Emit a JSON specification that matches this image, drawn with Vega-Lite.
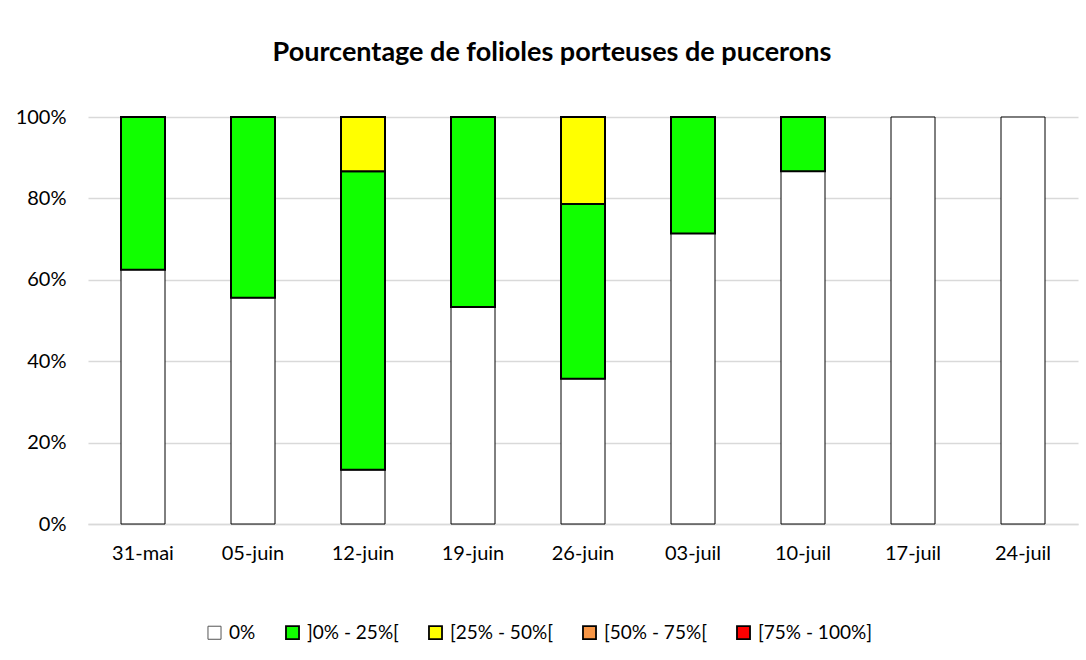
{
  "$schema": "https://vega.github.io/schema/vega-lite/v6.json",
  "autosize": {"type": "none"},
  "width": 990,
  "height": 407,
  "padding": {"left": 88, "top": 117, "right": 8, "bottom": 136},
  "background": "white",
  "title": {
    "text": "Pourcentage de folioles porteuses de pucerons",
    "fontSize": 27,
    "font": "Lato",
    "fontWeight": "bold",
    "color": "#000000",
    "anchor": "middle",
    "dx": -31,
    "offset": 19,
    "baseline": "alphabetic"
  },
  "config": {
    "view": {"stroke": null},
    "font": "Lato"
  },
  "data": {
    "values": [
      {"date": "31-mai", "cat": "0%", "k": 0, "v": 0.625},
      {"date": "31-mai", "cat": "]0% - 25%[", "k": 1, "v": 0.375},
      {"date": "05-juin", "cat": "0%", "k": 0, "v": 0.556},
      {"date": "05-juin", "cat": "]0% - 25%[", "k": 1, "v": 0.444},
      {"date": "12-juin", "cat": "0%", "k": 0, "v": 0.133},
      {"date": "12-juin", "cat": "]0% - 25%[", "k": 1, "v": 0.734},
      {"date": "12-juin", "cat": "[25% - 50%[", "k": 2, "v": 0.133},
      {"date": "19-juin", "cat": "0%", "k": 0, "v": 0.533},
      {"date": "19-juin", "cat": "]0% - 25%[", "k": 1, "v": 0.467},
      {"date": "26-juin", "cat": "0%", "k": 0, "v": 0.357},
      {"date": "26-juin", "cat": "]0% - 25%[", "k": 1, "v": 0.429},
      {"date": "26-juin", "cat": "[25% - 50%[", "k": 2, "v": 0.214},
      {"date": "03-juil", "cat": "0%", "k": 0, "v": 0.714},
      {"date": "03-juil", "cat": "]0% - 25%[", "k": 1, "v": 0.286},
      {"date": "10-juil", "cat": "0%", "k": 0, "v": 0.867},
      {"date": "10-juil", "cat": "]0% - 25%[", "k": 1, "v": 0.133},
      {"date": "17-juil", "cat": "0%", "k": 0, "v": 1.0},
      {"date": "24-juil", "cat": "0%", "k": 0, "v": 1.0}
    ]
  },
  "mark": {"type": "bar", "stroke": "#000000"},
  "encoding": {
    "x": {
      "field": "date",
      "type": "nominal",
      "sort": null,
      "title": null,
      "scale": {"paddingInner": 0.6, "paddingOuter": 0.3},
      "axis": {
        "labelAngle": 0,
        "labelFontSize": 20,
        "labelColor": "#000000",
        "labelPadding": 19,
        "ticks": false,
        "domainColor": "#d9d9d9",
        "domainWidth": 1.5
      }
    },
    "y": {
      "field": "v",
      "type": "quantitative",
      "stack": "zero",
      "title": null,
      "scale": {"domain": [0, 1], "nice": false},
      "axis": {
        "values": [0, 0.2, 0.4, 0.6, 0.8, 1],
        "format": ".0%",
        "labelFontSize": 20,
        "labelColor": "#000000",
        "labelPadding": 22,
        "ticks": false,
        "domain": false,
        "gridColor": "#d9d9d9",
        "gridWidth": 1.5
      }
    },
    "order": {"field": "k", "type": "quantitative", "sort": "ascending"},
    "strokeWidth": {
      "condition": {"test": "datum.cat === '0%'", "value": 1},
      "value": 2
    },
    "color": {
      "field": "cat",
      "type": "nominal",
      "title": null,
      "scale": {
        "domain": ["0%", "]0% - 25%[", "[25% - 50%[", "[50% - 75%[", "[75% - 100%]"],
        "range": ["#FFFFFF", "#11FF00", "#FFFF00", "#F79646", "#FF0000"]
      },
      "legend": {
        "orient": "none",
        "legendX": 117,
        "legendY": 506,
        "direction": "horizontal",
        "symbolType": "square",
        "symbolSize": 170,
        "symbolStrokeColor": "#000000",
        "symbolStrokeWidth": 1.8,
        "symbolOpacity": 1,
        "labelFontSize": 19,
        "labelColor": "#000000",
        "labelLimit": 300,
        "columnPadding": 26,
        "labelOffset": 5,
        "encode": {
          "symbols": {
            "update": {
              "strokeWidth": {"signal": "datum.value === '0%' ? 1 : 1.8"},
              "stroke": {"signal": "datum.value === '0%' ? '#555555' : '#000000'"}
            }
          }
        }
      }
    }
  }
}
